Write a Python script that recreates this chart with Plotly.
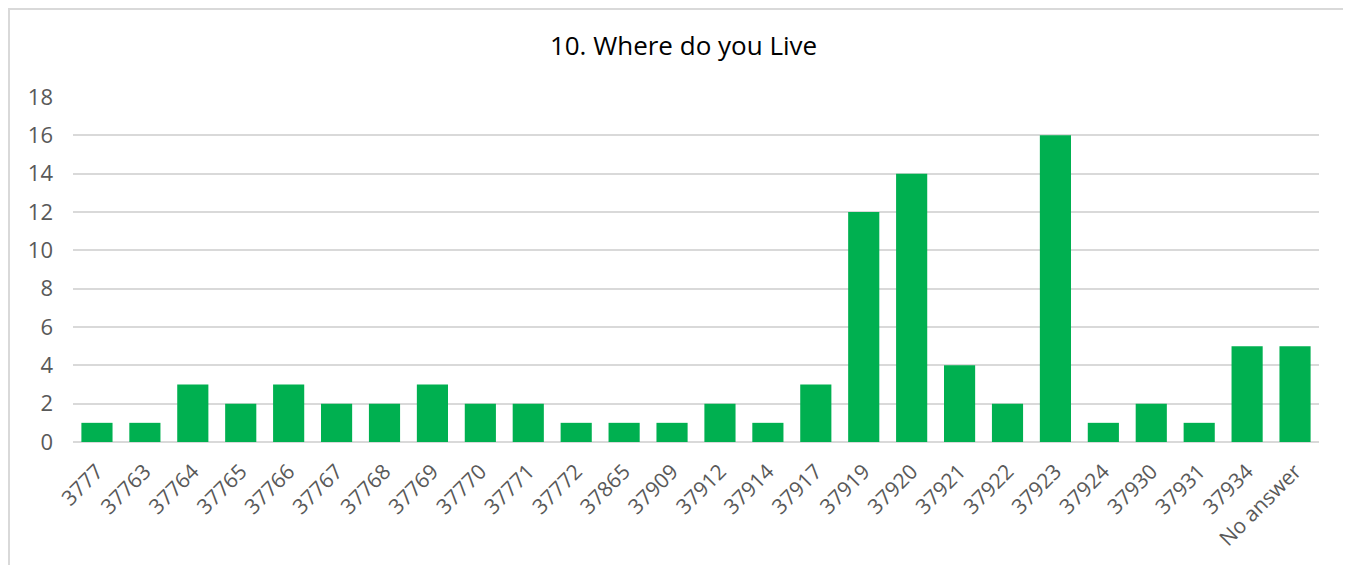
import plotly.graph_objects as go

categories = ["3777", "37763", "37764", "37765", "37766", "37767", "37768", "37769",
              "37770", "37771", "37772", "37865", "37909", "37912", "37914", "37917",
              "37919", "37920", "37921", "37922", "37923", "37924", "37930", "37931",
              "37934", "No answer"]
values = [1, 1, 3, 2, 3, 2, 2, 3, 2, 2, 1, 1, 1, 2, 1, 3, 12, 14, 4, 2, 16, 1, 2, 1, 5, 5]
y_ticks = [0, 2, 4, 6, 8, 10, 12, 14, 16, 18]

# page body adds an 8px offset; target positions are shifted accordingly
OFF = 8
W, H = 1351, 565
L, R, T, B = 73 - OFF, 1319 - OFF, 97 - OFF, 442 - OFF

fig = go.Figure(go.Bar(x=categories, y=values, marker_color="#00B050",
                       marker_line_width=0))

fig.update_layout(
    width=W, height=H,
    margin=dict(l=L, r=W - R, t=T, b=H - B, autoexpand=False),
    paper_bgcolor="white", plot_bgcolor="white",
    bargap=0.35,
    showlegend=False,
    font=dict(family="Open Sans, Liberation Sans, sans-serif", color="#595959", size=20),
    title=dict(text="10. Where do you Live", x=0.5, xanchor="center",
               y=1 - (46 - OFF) / H, yanchor="middle",
               font=dict(size=26, color="#000000", family="Open Sans, Liberation Sans, sans-serif")),
)
fig.update_xaxes(tickangle=-45, showgrid=False, showline=False, ticks="",
                 ticklabelstandoff=12,
                 tickfont=dict(size=21, color="#595959"))
fig.update_yaxes(range=[0, 18], tickvals=y_ticks, showgrid=True, gridcolor="#d9d9d9",
                 gridwidth=1.5, zeroline=True, zerolinecolor="#d9d9d9", zerolinewidth=1.5,
                 showline=False, ticks="", ticklabelstandoff=19,
                 tickfont=dict(size=22, color="#595959"))

pw, ph = R - L, B - T
fig.add_shape(type="rect", xref="paper", yref="paper",
              x0=(9 - OFF - L) / pw, x1=(1347 - OFF - L) / pw,
              y0=(B - 600) / ph, y1=(B - (8 - OFF) - 1) / ph,
              line=dict(color="#d9d9d9", width=2), fillcolor="rgba(0,0,0,0)", layer="below")

fig.write_html("out.html")
